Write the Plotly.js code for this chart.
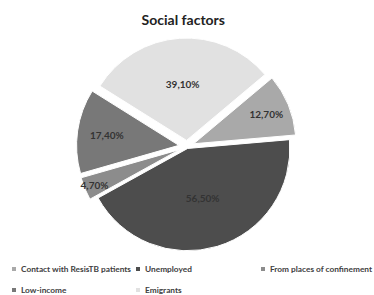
<!DOCTYPE html>
<html>
<head>
<meta charset="utf-8">
<script src="https://cdn.plot.ly/plotly-3.0.1.min.js"></script>
<style>html,body{margin:0;padding:0;background:#fff;}#chart{width:374px;height:295px;}</style>
</head>
<body>
<div id="chart"></div>
<script>
const categories = ["Contact with ResisTB patients", "Unemployed", "From places of confinement", "Low-income", "Emigrants"];
const values = [12.7, 56.5, 4.7, 17.4, 39.1];
const labelsText = ["12,70%", "56,50%", "4,70%", "17,40%", "39,10%"];
const colors = ["#a9a9a9", "#4d4d4d", "#8c8c8c", "#787878", "#e1e1e1"];

const W = 374, H = 295;
// legend layout (pixel positions of each entry's key square)
const legendPos = [[12, 269], [136, 269], [261, 269], [12, 290], [136, 290]];

const trace = {
  type: "pie",
  labels: categories,
  values: values,
  text: labelsText,
  textinfo: "text",
  texttemplate: "%{text}",
  textposition: "inside",
  insidetextorientation: "horizontal",
  sort: false,
  direction: "clockwise",
  rotation: 50,
  pull: [0.07, 0.02, 0.08, 0.08, 0.06],
  marker: {colors: colors, line: {color: "#ffffff", width: 1}},
  textfont: {family: "Lato, sans-serif", size: 10, color: "#333333", weight: "bold"},
  domain: {x: [0, 1], y: [1 - 257 / H, 1 - 36 / H]},
  hoverinfo: "none",
  showlegend: false
};

const shapes = [], annotations = [];
categories.forEach(function (name, i) {
  const px = legendPos[i][0], py = legendPos[i][1];
  shapes.push({type: "rect", xref: "paper", yref: "paper",
    x0: px / W, x1: (px + 4) / W, y0: 1 - (py + 2) / H, y1: 1 - (py - 2) / H,
    fillcolor: colors[i], line: {width: 0}});
  annotations.push({xref: "paper", yref: "paper", x: (px + 7) / W, y: 1 - py / H,
    xanchor: "left", yanchor: "middle", showarrow: false, text: name,
    font: {family: "Lato, sans-serif", size: 8.3, color: "#404040", weight: "bold"}});
});

const layout = {
  width: W, height: H,
  paper_bgcolor: "#ffffff",
  margin: {l: 0, r: 0, t: 0, b: 0},
  uniformtext: {minsize: 10, mode: "show"},
  title: {text: "<b>Social factors</b>", x: 0.49, xanchor: "center", y: 1 - 20 / H, yanchor: "middle",
          font: {family: "Lato, sans-serif", size: 14, color: "#222222"}},
  showlegend: false,
  shapes: shapes,
  annotations: annotations
};

Plotly.newPlot("chart", [trace], layout, {staticPlot: true});
</script>
</body>
</html>
